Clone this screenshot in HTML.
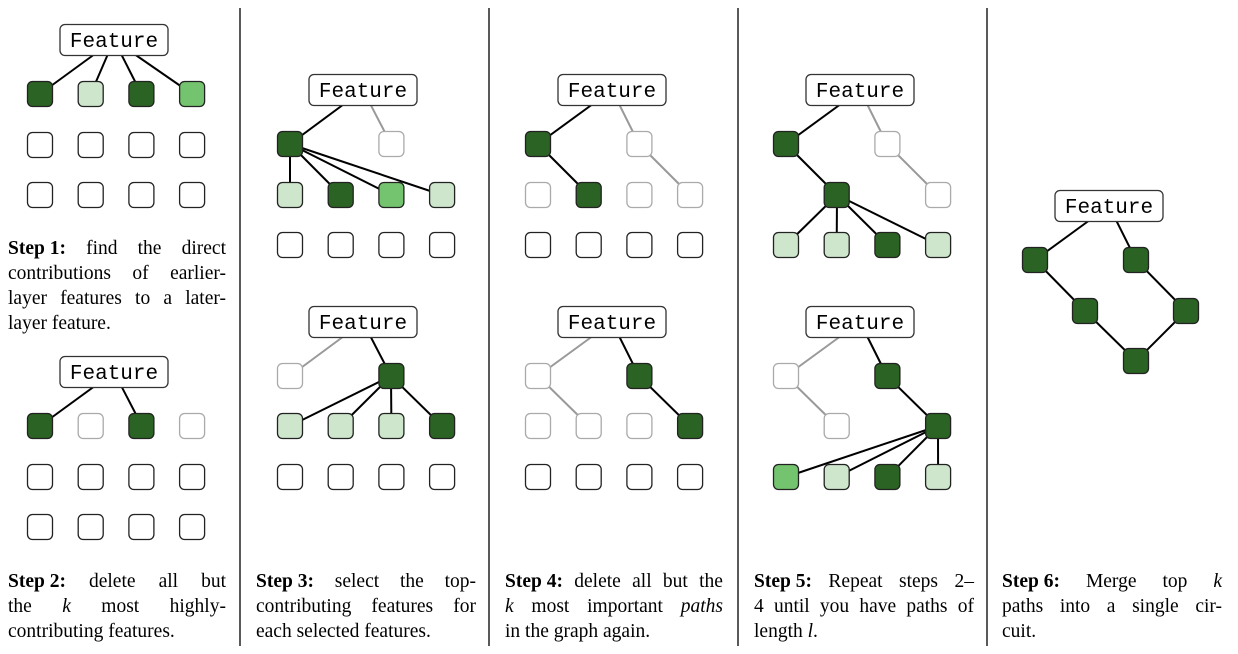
<!DOCTYPE html>
<html><head><meta charset="utf-8"><style>
html,body{margin:0;padding:0;background:#fff;}
body{width:1238px;height:654px;position:relative;overflow:hidden;}
svg{position:absolute;left:0;top:0;}
.t{position:absolute;font-family:"Liberation Serif",serif;font-size:19.5px;line-height:25px;color:#000;}
.t div{white-space:nowrap;}
.t div.j{display:flex;justify-content:space-between;}
</style></head><body>
<svg id="s" width="1238" height="654" xmlns="http://www.w3.org/2000/svg"></svg>

<div class="t" style="left:8px;top:236px;width:218px;">
<div class="j"><span><b>Step 1:</b></span><span>find</span><span>the</span><span>direct</span></div>
<div class="j"><span>contributions</span><span>of</span><span>earlier-</span></div>
<div class="j"><span>layer</span><span>features</span><span>to</span><span>a</span><span>later-</span></div>
<div>layer feature.</div>
</div>
<div class="t" style="left:8px;top:569px;width:218px;">
<div class="j"><span><b>Step 2:</b></span><span>delete</span><span>all</span><span>but</span></div>
<div class="j"><span>the</span><span><i>k</i></span><span>most</span><span>highly-</span></div>
<div>contributing features.</div>
</div>
<div class="t" style="left:256px;top:569px;width:220px;">
<div class="j"><span><b>Step 3:</b></span><span>select</span><span>the</span><span>top-</span></div>
<div class="j"><span>contributing</span><span>features</span><span>for</span></div>
<div>each selected features.</div>
</div>
<div class="t" style="left:505px;top:569px;width:218px;">
<div class="j"><span><b>Step 4:</b></span><span>delete</span><span>all</span><span>but</span><span>the</span></div>
<div class="j"><span><i>k</i></span><span>most</span><span>important</span><span><i>paths</i></span></div>
<div>in the graph again.</div>
</div>
<div class="t" style="left:754px;top:569px;width:220px;">
<div class="j"><span><b>Step 5:</b></span><span>Repeat</span><span>steps</span><span>2–</span></div>
<div class="j"><span>4</span><span>until</span><span>you</span><span>have</span><span>paths</span><span>of</span></div>
<div>length <i>l</i>.</div>
</div>
<div class="t" style="left:1002px;top:569px;width:220px;">
<div class="j"><span><b>Step 6:</b></span><span>Merge</span><span>top</span><span><i>k</i></span></div>
<div class="j"><span>paths</span><span>into</span><span>a</span><span>single</span><span>cir-</span></div>
<div>cuit.</div>
</div>

<script>
var s=document.getElementById('s'),L='',N='',F='';
var C={d:'#2a6323',l:'#cde6cc',m:'#74c36e',w:'#fff',g:'#fff'};
function line(x1,y1,x2,y2,g){L+='<line x1="'+x1+'" y1="'+y1+'" x2="'+x2+'" y2="'+y2+'" stroke="'+(g?'#999':'#000')+'" stroke-width="2"/>';}
function node(x,y,c){if(!C[c])return;var st=c=='g'?'#aaa':'#222';N+='<rect x="'+(x-12.5)+'" y="'+(y-12.5)+'" width="25" height="25" rx="5" fill="'+C[c]+'" stroke="'+st+'" stroke-width="1.3"/>';}
function feat(x,y){F+='<rect x="'+(x-54)+'" y="'+(y-15.5)+'" width="108" height="31" rx="5" fill="#fff" stroke="#333" stroke-width="1.3"/><text x="'+x+'" y="'+(y+7)+'" text-anchor="middle" font-family="Liberation Mono,monospace" font-size="21">Feature</text>';}
function row(ox,y,cs){for(var i=0;i<4;i++)node(ox+i*50.7,y,cs[i]);}
[240,489,738,987].forEach(function(x){L+='<line x1="'+x+'" y1="8" x2="'+x+'" y2="646" stroke="#000" stroke-width="1.3"/>';});
// panel 1 top
feat(114,40);[0,1,2,3].forEach(function(i){line(114,40,40+i*50.7,94);});
row(40,94,'dldm');row(40,145,'wwww');row(40,195,'wwww');
// panel1 bottom
feat(114,372);line(114,372,40,426);line(114,372,142,426);
row(40,426,'dgdg');row(40,477,'wwww');row(40,527,'wwww');
// panel2 top
var o=290,i;feat(363,90);line(363,90,o,144);line(363,90,o+101,144,1);
for(i=0;i<4;i++)line(o,144,o+i*50.7,195);
row(o,144,'d-g-');row(o,195,'ldml');row(o,245,'wwww');
// panel2 bottom
feat(363,322);line(363,322,o,376,1);line(363,322,o+101,376);
for(i=0;i<4;i++)line(o+101,376,o+i*50.7,426);
row(o,376,'g-d-');row(o,426,'llld');row(o,477,'wwww');
// panel3 top
o=538;feat(612,90);line(612,90,o,144);line(612,90,o+101,144,1);
line(o,144,o+51,195);line(o+101,144,o+152,195,1);
row(o,144,'d-g-');row(o,195,'gdgg');row(o,245,'wwww');
// panel3 bottom
feat(612,322);line(612,322,o,376,1);line(612,322,o+101,376);
line(o,376,o+51,426,1);line(o+101,376,o+152,426);
row(o,376,'g-d-');row(o,426,'gggd');row(o,477,'wwww');
// panel4 top
o=786;feat(860,90);line(860,90,o,144);line(860,90,o+101,144,1);
line(o,144,o+51,195);line(o+101,144,o+152,195,1);
for(i=0;i<4;i++)line(o+51,195,o+i*50.7,245);
row(o,144,'d-g-');row(o,195,'-d-g');row(o,245,'lldl');
// panel4 bottom
feat(860,322);line(860,322,o,376,1);line(860,322,o+101,376);
line(o,376,o+51,426,1);line(o+101,376,o+152,426);
for(i=0;i<4;i++)line(o+152,426,o+i*50.7,477);
row(o,376,'g-d-');row(o,426,'-g-d');row(o,477,'mldl');
// panel5
feat(1109,206);line(1109,206,1035,260);line(1109,206,1136,260);
line(1035,260,1085,311);line(1136,260,1186,311);line(1085,311,1136,361);line(1186,311,1136,361);
node(1035,260,'d');node(1136,260,'d');node(1085,311,'d');node(1186,311,'d');node(1136,361,'d');
s.innerHTML=L+N+F;
</script>
</body></html>
